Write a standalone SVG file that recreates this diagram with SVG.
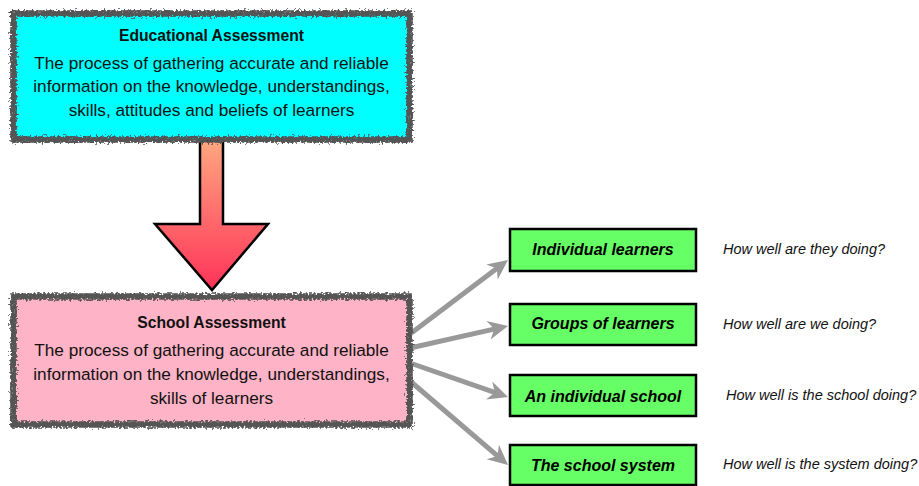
<svg xmlns="http://www.w3.org/2000/svg" width="919" height="486" viewBox="0 0 919 486">
<style>
.title{font-family:"Liberation Sans",Arial,sans-serif;font-weight:bold;font-size:15.7px;fill:#111;text-anchor:middle}
.body{font-family:"Liberation Sans",Arial,sans-serif;font-size:17.2px;fill:#111;text-anchor:middle}
.rough{fill:none;stroke:#555;stroke-width:6.5}
.gbox{fill:#66FF66;stroke:#000;stroke-width:2.5}
.glabel{font-family:"Liberation Sans",Arial,sans-serif;font-weight:bold;font-style:italic;font-size:16px;fill:#000;text-anchor:middle}
.q{font-family:"Liberation Sans",Arial,sans-serif;font-style:italic;font-size:14.5px;fill:#111}
.conn{stroke:#999;stroke-width:5;fill:none;marker-end:url(#ah)}
</style>
<defs>
<filter id="roughen" x="-5%" y="-10%" width="110%" height="120%">
<feTurbulence type="fractalNoise" baseFrequency="0.5" numOctaves="2" seed="4"/>
<feDisplacementMap in="SourceGraphic" scale="7.5" xChannelSelector="R" yChannelSelector="G"/>
</filter>
<linearGradient id="arrowGrad" x1="0" y1="0" x2="0" y2="1">
<stop offset="0" stop-color="#FFA680"/>
<stop offset="1" stop-color="#FF3358"/>
</linearGradient>
<marker id="ah" markerUnits="userSpaceOnUse" markerWidth="34" markerHeight="34" refX="10" refY="17" orient="auto" viewBox="0 0 34 34">
<path d="M22,17 L2,7.5 L8,17 L2,26.5 Z" fill="#999"/>
</marker>
</defs>

<g id="connectors">
<line class="conn" x1="410" y1="334" x2="498.4" y2="267.2"/>
<line class="conn" x1="410" y1="348" x2="496.3" y2="328.6"/>
<line class="conn" x1="410" y1="363" x2="496.7" y2="393.1"/>
<line class="conn" x1="410" y1="381" x2="498.9" y2="457.2"/>
</g>

<g id="big-arrow">
<polygon points="200,141 223,141 223,224 268,224 212,290 155,224 200,224" fill="url(#arrowGrad)" stroke="#000" stroke-width="2.5" stroke-linejoin="miter"/>
</g>

<g id="educational-assessment">
<rect x="13" y="13" width="397" height="127" fill="#00FFFF"/>
<rect class="rough" x="13.5" y="13.5" width="396" height="126" filter="url(#roughen)"/>
<text class="title" x="211.5" y="41">Educational Assessment</text>
<text class="body" x="211.5" y="69">The process of gathering accurate and reliable</text>
<text class="body" x="211.5" y="92">information on the knowledge, understandings,</text>
<text class="body" x="211.5" y="116">skills, attitudes and beliefs of learners</text>
</g>

<g id="school-assessment">
<rect x="13" y="296" width="397" height="129" fill="#FFB3C6"/>
<rect class="rough" x="13.5" y="296.5" width="396" height="128" filter="url(#roughen)"/>
<text class="title" x="211.5" y="328">School Assessment</text>
<text class="body" x="211.5" y="356">The process of gathering accurate and reliable</text>
<text class="body" x="211.5" y="380">information on the knowledge, understandings,</text>
<text class="body" x="211.5" y="404">skills of learners</text>
</g>

<g id="individual-learners">
<rect class="gbox" x="510" y="229" width="186" height="42"/>
<text class="glabel" x="603" y="255">Individual learners</text>
</g>
<g id="groups-of-learners">
<rect class="gbox" x="510" y="304" width="186" height="41"/>
<text class="glabel" x="603" y="329">Groups of learners</text>
</g>
<g id="individual-school">
<rect class="gbox" x="510" y="375" width="186" height="41"/>
<text class="glabel" x="603" y="402">An individual school</text>
</g>
<g id="school-system">
<rect class="gbox" x="510" y="445" width="186" height="40"/>
<text class="glabel" x="603" y="471">The school system</text>
</g>

<g id="questions">
<text class="q" x="723" y="254">How well are they doing?</text>
<text class="q" x="723" y="329">How well are we doing?</text>
<text class="q" x="726" y="400">How well is the school doing?</text>
<text class="q" x="723" y="469">How well is the system doing?</text>
</g>
</svg>
